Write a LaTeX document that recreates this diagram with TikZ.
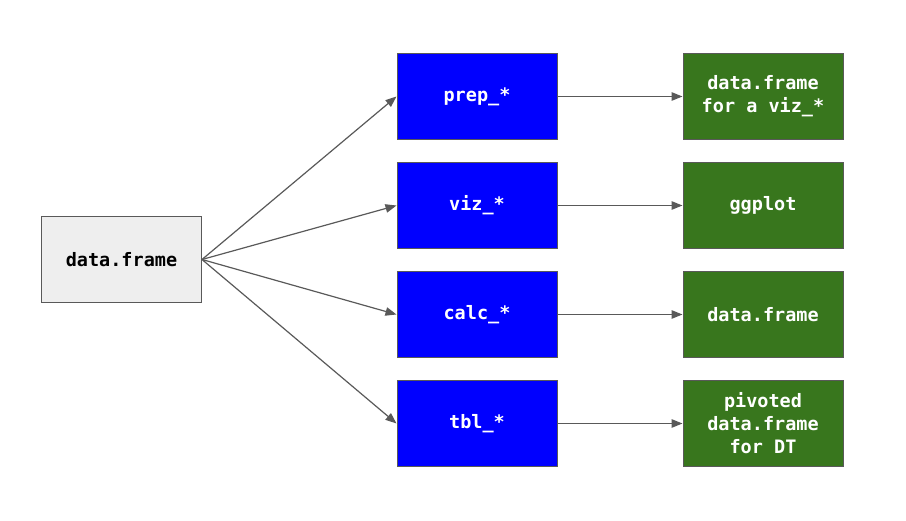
\documentclass[tikz,border=0pt]{standalone}
\usepackage{fontspec}
\setmonofont{DejaVu Sans Mono}
\usetikzlibrary{arrows.meta}
\definecolor{srcfill}{HTML}{EEEEEE}
\definecolor{edge}{HTML}{595959}
\definecolor{fnblue}{HTML}{0000FF}
\definecolor{outgreen}{HTML}{38761D}
\tikzset{
  box/.style={draw=edge, line width=1pt, minimum width=160pt, minimum height=86pt, inner sep=0pt, align=center,
    font=\ttfamily\bfseries\fontsize{18.5}{23}\selectfont},
  srcbox/.style={box, fill=srcfill, text=black},
  fnbox/.style={box, fill=fnblue, text=white},
  outbox/.style={box, fill=outgreen, text=white},
  link/.style={draw=edge, line width=1.2pt, -{Triangle[length=11pt,width=8.5pt]}}
}
\begin{document}
\begin{tikzpicture}[x=1pt,y=-1pt]
\useasboundingbox (0,0) rectangle (906,521);
\node[srcbox] (src) at (121.5,259.5) {data.frame};
\node[fnbox] (prep) at (477,96.5) {prep\_*};
\node[fnbox] (viz) at (477,205.5) {viz\_*};
\node[fnbox] (calc) at (477,314.5) {calc\_*};
\node[fnbox] (tbl) at (477,423.5) {tbl\_*};
\node[outbox] (o1) at (763,96.5) {data.frame\\for a viz\_*};
\node[outbox] (o2) at (763,205.5) {ggplot};
\node[outbox] (o3) at (763,314.5) {data.frame};
\node[outbox] (o4) at (763,423.5) {pivoted\\data.frame\\for DT};
\foreach \f in {prep,viz,calc,tbl}{\draw[link] (src.east) -- (\f.west);}
\draw[link] (prep) -- (o1);
\draw[link] (viz) -- (o2);
\draw[link] (calc) -- (o3);
\draw[link] (tbl) -- (o4);
\end{tikzpicture}
\end{document}
